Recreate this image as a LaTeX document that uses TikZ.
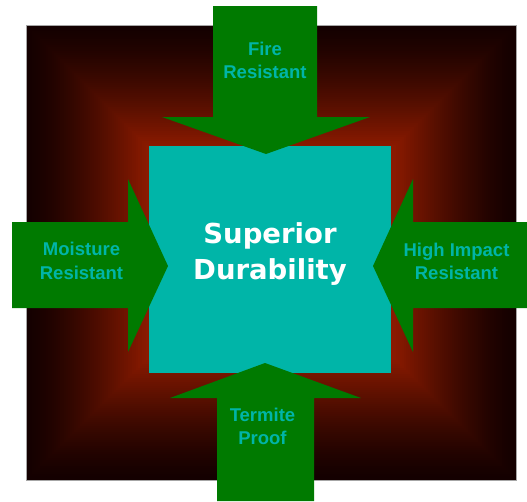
\documentclass[tikz,border=0pt]{standalone}
\usepackage{fontspec}
\setmainfont{Liberation Sans}
\newfontfamily\titlefont{DejaVu Sans}
\definecolor{bgout}{RGB}{20,0,0}
\definecolor{bgin}{RGB}{138,26,0}
\definecolor{coreteal}{RGB}{0,181,168}
\definecolor{arrowgreen}{RGB}{0,122,0}
\begin{document}
\begin{tikzpicture}[x=1pt,y=-1pt,
  arrowshape/.style={fill=arrowgreen},
  arrowtext/.style={text=coreteal, font=\fontsize{18.5}{23.5}\selectfont\bfseries, align=center, inner sep=0pt},
  titletext/.style={text=white, font=\titlefont\fontsize{27.5}{36}\selectfont\bfseries, align=center, inner sep=0pt},
  corebox/.style={fill=coreteal, draw=none, inner sep=0pt, minimum width=242pt, minimum height=227pt}]
\useasboundingbox (0,0) rectangle (527,501);
% background with rectangular gradient
\foreach \i in {0,...,60} {
  \pgfmathsetmacro\p{min(100,100*(\i/60)^1.35)}
  \fill[bgin!\p!bgout] ({26+2*\i},{25+2*\i}) rectangle ({516-2*\i},{480-2*\i});
}
\draw[gray!70, line width=0.6pt] (26,25) rectangle (516,480);
% central square
\node[corebox] (core) at (270,259.5) {};
% arrows
\fill[arrowshape] (213,6) -- (317,6) -- (317,117) -- (370,117) -- (266,154) -- (162,117) -- (213,117) -- cycle;
\fill[arrowshape] (217,501) -- (217,398) -- (170,398) -- (265,363) -- (361,398) -- (314,398) -- (314,501) -- cycle;
\fill[arrowshape] (12,222) -- (128,222) -- (128,179) -- (168,266) -- (128,352) -- (128,308) -- (12,308) -- cycle;
\fill[arrowshape] (527,222) -- (413,222) -- (413,179) -- (373,266) -- (413,352) -- (413,308) -- (527,308) -- cycle;
% texts
\node[titletext] (title) at (270,253.8) {Superior\\Durability};
\node[arrowtext] (fire) at (265,60.5) {Fire\\Resistant};
\node[arrowtext] (moisture) at (81.5,261) {Moisture\\Resistant};
\node[arrowtext] (impact) at (456.5,261.5) {High Impact\\Resistant};
\node[arrowtext] (termite) at (262.5,426.5) {Termite\\Proof};
\end{tikzpicture}
\end{document}
